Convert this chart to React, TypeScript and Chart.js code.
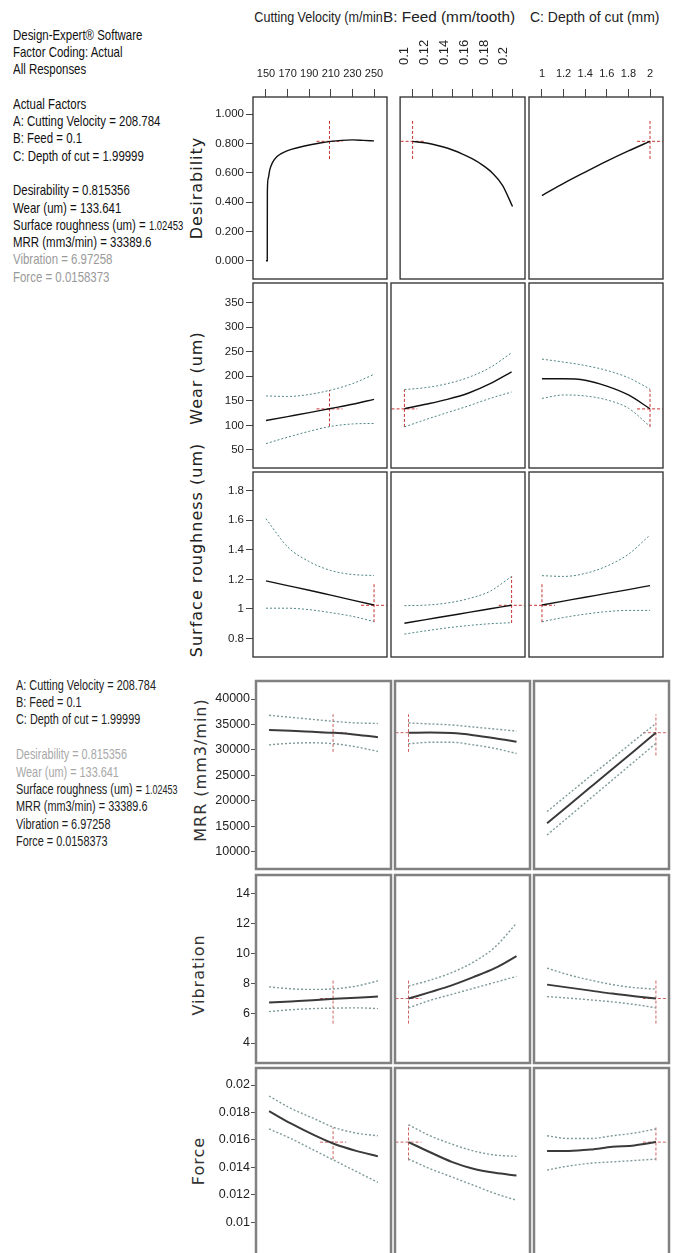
import React, { useEffect, useRef } from "react";
import { Chart, registerables } from "chart.js";
Chart.register(...registerables);

// ---------- factor axes ----------
const A_TICKS = [150, 170, 190, 210, 230, 250];
const A_TICK_LABELS = ["150", "170", "190", "210", "230", "250"];
const B_TICKS = [0.1, 0.12, 0.14, 0.16, 0.18, 0.2];
const B_TICK_LABELS = ["0.1", "0.12", "0.14", "0.16", "0.18", "0.2"];
const C_TICKS = [1, 1.2, 1.4, 1.6, 1.8, 2];
const C_TICK_LABELS = ["1", "1.2", "1.4", "1.6", "1.8", "2"];

const A_PTS = [150, 170, 190, 210, 230, 250];
const B_PTS = [0.1, 0.12, 0.14, 0.16, 0.18, 0.2];
const C_PTS = [1, 1.2, 1.4, 1.6, 1.8, 2];

// ---------- response axes ----------
const DES_TICKS = [0, 0.2, 0.4, 0.6, 0.8, 1];
const DES_TICK_LABELS = ["0.000", "0.200", "0.400", "0.600", "0.800", "1.000"];
const WEAR_TICKS = [50, 100, 150, 200, 250, 300, 350];
const WEAR_TICK_LABELS = ["50", "100", "150", "200", "250", "300", "350"];
const SR_TICKS = [0.8, 1, 1.2, 1.4, 1.6, 1.8];
const SR_TICK_LABELS = ["0.8", "1", "1.2", "1.4", "1.6", "1.8"];
const MRR_TICKS = [10000, 15000, 20000, 25000, 30000, 35000, 40000];
const MRR_TICK_LABELS = ["10000", "15000", "20000", "25000", "30000", "35000", "40000"];
const VIB_TICKS = [4, 6, 8, 10, 12, 14];
const VIB_TICK_LABELS = ["4", "6", "8", "10", "12", "14"];
const FORCE_TICKS = [0.01, 0.012, 0.014, 0.016, 0.018, 0.02];
const FORCE_TICK_LABELS = ["0.01", "0.012", "0.014", "0.016", "0.018", "0.02"];

// ---------- current settings ----------
const FACTORS = [208.784, 0.1, 1.99999];
const FACTORS_SR = [250, 0.2, 1];
const DES_VAL = 0.815356;
const WEAR_VAL = 133.641;
const SR_VAL = 1.02453;
const MRR_VAL = 33389.6;
const VIB_VAL = 6.97258;
const FORCE_VAL = 0.0158373;

// ---------- Desirability ----------
const desA_x = [150, 151.2, 151.3, 152, 153.5, 156, 160, 165, 170, 180, 190, 200, 210, 220, 230, 240, 250];
const desA_y = [0, 0, 0.47, 0.56, 0.62, 0.67, 0.71, 0.735, 0.752, 0.773, 0.79, 0.804, 0.815, 0.822, 0.825, 0.822, 0.818];
const desB_x = [0.1, 0.11, 0.12, 0.13, 0.14, 0.15, 0.16, 0.17, 0.18, 0.19, 0.2];
const desB_y = [0.815, 0.807, 0.795, 0.778, 0.756, 0.728, 0.695, 0.653, 0.598, 0.515, 0.37];
const desC_y = [0.445, 0.528, 0.605, 0.68, 0.75, 0.815];
const DES_CROSS_V = [[0.695, 0.96], [0.695, 0.96], [0.695, 0.96]];

// ---------- Wear ----------
const wearA_mid = [110, 118, 126, 134.5, 143, 153];
const wearA_hi = [160, 159, 163, 172, 185, 204];
const wearA_lo = [63, 76, 88, 98, 103, 104];
const wearB_mid = [134, 143, 153, 166, 185, 209];
const wearB_hi = [173, 177, 185, 198, 218, 248];
const wearB_lo = [97, 112, 126, 140, 155, 168];
const wearC_mid = [195, 195, 192, 180, 162, 134];
const wearC_hi = [235, 229, 222, 212, 197, 174];
const wearC_lo = [155, 162, 160, 152, 135, 98];
const WEAR_CROSS_V = [[98, 172], [97, 173], [97, 173]];

// ---------- Surface roughness ----------
const srA_mid = [1.19, 1.158, 1.126, 1.093, 1.06, 1.027];
const srA_hi = [1.61, 1.42, 1.32, 1.26, 1.233, 1.226];
const srA_lo = [1.005, 1.005, 0.995, 0.975, 0.95, 0.915];
const srB_mid = [0.903, 0.928, 0.952, 0.977, 1.001, 1.025];
const srB_hi = [1.022, 1.026, 1.04, 1.07, 1.12, 1.22];
const srB_lo = [0.83, 0.852, 0.872, 0.888, 0.9, 0.907];
const srC_mid = [1.027, 1.053, 1.079, 1.105, 1.131, 1.158];
const srC_hi = [1.225, 1.22, 1.24, 1.29, 1.37, 1.5];
const srC_lo = [0.914, 0.942, 0.965, 0.982, 0.99, 0.99];
const SR_CROSS_V = [[0.91, 1.18], [0.905, 1.22], [0.91, 1.18]];

// ---------- MRR ----------
const mrrA_mid = [33900, 33750, 33550, 33350, 33000, 32500];
const mrrA_hi = [36800, 36400, 36000, 35600, 35300, 35200];
const mrrA_lo = [31000, 31300, 31400, 31200, 30600, 29700];
const mrrB_mid = [33390, 33400, 33300, 32900, 32300, 31600];
const mrrB_hi = [35300, 35100, 34900, 34500, 34100, 33700];
const mrrB_lo = [31200, 31500, 31500, 31000, 30300, 29300];
const mrrC_mid = [15600, 19150, 22700, 26250, 29800, 33390];
const mrrC_hi = [17900, 21400, 24900, 28300, 31800, 35200];
const mrrC_lo = [13300, 16900, 20500, 24100, 27700, 31300];
const MRR_CROSS_V = [[29600, 37000], [29600, 37000], [28900, 37000]];

// ---------- Vibration ----------
const vibA_mid = [6.7, 6.78, 6.86, 6.95, 7.03, 7.1];
const vibA_hi = [7.75, 7.62, 7.58, 7.62, 7.8, 8.15];
const vibA_lo = [6.1, 6.22, 6.3, 6.33, 6.35, 6.3];
const vibB_mid = [6.97, 7.4, 7.85, 8.4, 9.0, 9.8];
const vibB_hi = [7.8, 8.2, 8.7, 9.4, 10.4, 12.0];
const vibB_lo = [6.35, 6.85, 7.25, 7.65, 8.05, 8.45];
const vibC_mid = [7.9, 7.7, 7.5, 7.3, 7.13, 6.97];
const vibC_hi = [9.0, 8.55, 8.2, 7.9, 7.7, 7.6];
const vibC_lo = [7.1, 7.0, 6.88, 6.75, 6.58, 6.35];
const VIB_CROSS_V = [[5.3, 8.25], [5.3, 8.25], [5.3, 8.25]];

// ---------- Force ----------
const forceA_mid = [0.0181, 0.0172, 0.0164, 0.0157, 0.0152, 0.0148];
const forceA_hi = [0.0192, 0.0183, 0.0176, 0.0169, 0.0165, 0.0163];
const forceA_lo = [0.0168, 0.0161, 0.0153, 0.0145, 0.0137, 0.0129];
const forceB_mid = [0.01584, 0.0151, 0.0144, 0.0139, 0.0136, 0.0134];
const forceB_hi = [0.0171, 0.0163, 0.0157, 0.0152, 0.0149, 0.0148];
const forceB_lo = [0.0146, 0.0139, 0.0133, 0.0127, 0.0121, 0.0116];
const forceC_mid = [0.0152, 0.0152, 0.0153, 0.0155, 0.0156, 0.01584];
const forceC_hi = [0.0163, 0.0161, 0.0161, 0.0163, 0.0165, 0.0168];
const forceC_lo = [0.0138, 0.0141, 0.0143, 0.0144, 0.0145, 0.0146];
const FORCE_CROSS_V = [[0.0146, 0.0169], [0.0145, 0.0171], [0.0145, 0.017]];

// ---------- text ----------
const HEADER_A = "A: Cutting Velocity (m/min)";
const HEADER_B = "B: Feed (mm/tooth)";
const HEADER_C = "C: Depth of cut (mm)";
const Y_TITLES = ["Desirability", "Wear (um)", "Surface roughness (um)", "MRR (mm3/min)", "Vibration", "Force"];

// ---------- layout (styles) ----------
const TOP_COLS = [[253, 387], [391, 525], [529, 663]];
const TOP_ROWS = [[97, 279], [283, 468], [472, 657]];
const BOT_COLS = [[256, 391], [395, 530], [534, 669]];
const BOT_ROWS = [[681, 869], [875, 1063], [1068, 1258]];
const X_RANGES = [[138, 262], [0.0875, 0.2125], [0.88, 2.12]];
const HALF = [12, 0.012, 0.12];
const PAD = 20;
const LEFTX = 70;
const TOPX = 82;
const SANS = "'Liberation Sans', Arial, sans-serif";

const framePlugin = {
  id: "frame",
  afterDatasetsDraw(chart: any, _a: any, opts: any) {
    const { ctx, chartArea } = chart;
    ctx.save();
    ctx.strokeStyle = opts.color;
    ctx.lineWidth = opts.width;
    ctx.strokeRect(chartArea.left, chartArea.top, chartArea.right - chartArea.left, chartArea.bottom - chartArea.top);
    ctx.restore();
  },
};

type Curve = { xs: number[]; ys: number[]; kind: "mid" | "ci" };
type PanelProps = {
  box: number[];
  showX: boolean;
  showY: boolean;
  xRange: number[];
  yRange: number[];
  xTicks: number[];
  xLabels: string[];
  xRot: boolean;
  yTicks: number[];
  yLabels: string[];
  curves: Curve[];
  cross: { x: number; y: number; v: number[]; half: number };
  lower: boolean;
};

function Panel(p: PanelProps) {
  const ref = useRef<HTMLCanvasElement | null>(null);
  const [l, t, r, b] = p.box;
  const extL = p.showY ? LEFTX : PAD;
  const extT = p.showX ? TOPX : PAD;
  const w = r - l + extL + PAD;
  const h = b - t + extT + PAD;
  useEffect(() => {
    const red = p.lower ? "rgba(200,70,70,0.85)" : "#c83232";
    const midColor = p.lower ? "#3a3a3a" : "#111";
    const ciColor = p.lower ? "#7f9a9a" : "#4f8585";
    const datasets: any[] = p.curves.map((c) => ({
      data: c.xs.map((x, i) => ({ x, y: c.ys[i] })),
      borderColor: c.kind === "mid" ? midColor : ciColor,
      borderWidth: c.kind === "mid" ? (p.lower ? 2 : 1.4) : p.lower ? 1.4 : 1,
      borderDash: c.kind === "mid" ? [] : [2, 2],
      pointRadius: 0,
      cubicInterpolationMode: "monotone",
      fill: false,
    }));
    datasets.push({
      data: [{ x: p.cross.x, y: p.cross.v[0] }, { x: p.cross.x, y: p.cross.v[1] }],
      borderColor: red, borderWidth: 1, borderDash: [3, 2], pointRadius: 0, fill: false,
    });
    datasets.push({
      data: [{ x: p.cross.x - p.cross.half, y: p.cross.y }, { x: p.cross.x + p.cross.half, y: p.cross.y }],
      borderColor: red, borderWidth: 1, borderDash: [3, 2], pointRadius: 0, fill: false,
    });
    const chart = new Chart(ref.current as HTMLCanvasElement, {
      type: "line",
      data: { datasets },
      plugins: [framePlugin],
      options: {
        animation: false,
        responsive: false,
        devicePixelRatio: 1,
        events: [],
        layout: { padding: { left: p.showY ? 0 : PAD, right: PAD, top: p.showX ? 0 : PAD, bottom: PAD } },
        plugins: {
          legend: { display: false },
          tooltip: { enabled: false },
          frame: { color: p.lower ? "#808080" : "#3a3a3a", width: p.lower ? 2.5 : 1.4 },
        } as any,
        scales: {
          x: {
            type: "linear",
            position: "top",
            display: p.showX,
            min: p.xRange[0],
            max: p.xRange[1],
            afterBuildTicks: (s: any) => { s.ticks = p.xTicks.map((v) => ({ value: v })); },
            afterFit: (s: any) => { if (p.showX) s.height = TOPX; },
            grid: { drawOnChartArea: false, drawTicks: true, tickLength: 8, color: "#444" },
            border: { display: false },
            ticks: {
              autoSkip: false,
              maxRotation: p.xRot ? 90 : 0,
              minRotation: p.xRot ? 90 : 0,
              padding: p.xRot ? 24 : 8,
              labelOffset: p.xRot ? 7 : 0,
              color: "#222",
              font: { family: SANS, size: p.xRot ? 13 : 11 },
              callback: (_v: any, i: number) => p.xLabels[i],
            },
          },
          y: {
            type: "linear",
            position: "left",
            display: p.showY,
            min: p.yRange[0],
            max: p.yRange[1],
            afterBuildTicks: (s: any) => { s.ticks = p.yTicks.map((v) => ({ value: v })); },
            afterFit: (s: any) => { if (p.showY) s.width = LEFTX; },
            grid: { drawOnChartArea: false, drawTicks: true, tickLength: p.lower ? 5 : 7, color: p.lower ? "#555" : "#444" },
            border: { display: false },
            ticks: {
              autoSkip: false,
              padding: p.lower ? 1 : 2,
              color: "#222",
              font: { family: SANS, size: p.lower ? 12.5 : 11.5 },
              callback: (_v: any, i: number) => p.yLabels[i],
            },
          },
        },
      } as any,
    });
    return () => chart.destroy();
  }, []);
  return (
    <canvas
      ref={ref}
      width={w}
      height={h}
      style={{ position: "absolute", left: l - extL, top: t - extT, width: w, height: h }}
    />
  );
}

type RowSpec = {
  yRange: number[];
  yTicks: number[];
  yLabels: string[];
  curves: Curve[][];
  crossY: number;
  crossX: number[];
  crossV: number[][];
};

const tri = (m: number[], hi: number[], lo: number[], xs: number[]): Curve[] => [
  { xs, ys: hi, kind: "ci" },
  { xs, ys: lo, kind: "ci" },
  { xs, ys: m, kind: "mid" },
];

const TOP_SPECS: RowSpec[] = [
  {
    yRange: [-0.125, 1.118], yTicks: DES_TICKS, yLabels: DES_TICK_LABELS,
    curves: [
      [{ xs: desA_x, ys: desA_y, kind: "mid" }],
      [{ xs: desB_x, ys: desB_y, kind: "mid" }],
      [{ xs: C_PTS, ys: desC_y, kind: "mid" }],
    ],
    crossY: DES_VAL, crossX: FACTORS, crossV: DES_CROSS_V,
  },
  {
    yRange: [13.3, 390], yTicks: WEAR_TICKS, yLabels: WEAR_TICK_LABELS,
    curves: [tri(wearA_mid, wearA_hi, wearA_lo, A_PTS), tri(wearB_mid, wearB_hi, wearB_lo, B_PTS), tri(wearC_mid, wearC_hi, wearC_lo, C_PTS)],
    crossY: WEAR_VAL, crossX: FACTORS, crossV: WEAR_CROSS_V,
  },
  {
    yRange: [0.675, 1.926], yTicks: SR_TICKS, yLabels: SR_TICK_LABELS,
    curves: [tri(srA_mid, srA_hi, srA_lo, A_PTS), tri(srB_mid, srB_hi, srB_lo, B_PTS), tri(srC_mid, srC_hi, srC_lo, C_PTS)],
    crossY: SR_VAL, crossX: FACTORS_SR, crossV: SR_CROSS_V,
  },
];

const BOT_SPECS: RowSpec[] = [
  {
    yRange: [6614, 43535], yTicks: MRR_TICKS, yLabels: MRR_TICK_LABELS,
    curves: [tri(mrrA_mid, mrrA_hi, mrrA_lo, A_PTS), tri(mrrB_mid, mrrB_hi, mrrB_lo, B_PTS), tri(mrrC_mid, mrrC_hi, mrrC_lo, C_PTS)],
    crossY: MRR_VAL, crossX: FACTORS, crossV: MRR_CROSS_V,
  },
  {
    yRange: [2.667, 15.22], yTicks: VIB_TICKS, yLabels: VIB_TICK_LABELS,
    curves: [tri(vibA_mid, vibA_hi, vibA_lo, A_PTS), tri(vibB_mid, vibB_hi, vibB_lo, B_PTS), tri(vibC_mid, vibC_hi, vibC_lo, C_PTS)],
    crossY: VIB_VAL, crossX: FACTORS, crossV: VIB_CROSS_V,
  },
  {
    yRange: [0.007392, 0.021241], yTicks: FORCE_TICKS, yLabels: FORCE_TICK_LABELS,
    curves: [tri(forceA_mid, forceA_hi, forceA_lo, A_PTS), tri(forceB_mid, forceB_hi, forceB_lo, B_PTS), tri(forceC_mid, forceC_hi, forceC_lo, C_PTS)],
    crossY: FORCE_VAL, crossX: FACTORS, crossV: FORCE_CROSS_V,
  },
];

const X_TICK_SETS = [A_TICKS, B_TICKS, C_TICKS];
const X_LABEL_SETS = [A_TICK_LABELS, B_TICK_LABELS, C_TICK_LABELS];

function Line(props: { x: number; y: number; size: number; color: string; sx: number; children: any; lh?: number }) {
  const lh = props.lh || 17;
  return (
    <div
      style={{
        position: "absolute", left: props.x, top: props.y - lh / 2, height: lh, lineHeight: lh + "px",
        fontSize: props.size, color: props.color, fontFamily: SANS, whiteSpace: "nowrap",
        transform: `scaleX(${props.sx})`, transformOrigin: "0 50%",
      }}
    >
      {props.children}
    </div>
  );
}

function VTitle(props: { x: number; y: number; color: string; text: string }) {
  return (
    <div
      style={{
        position: "absolute", left: props.x, top: props.y, whiteSpace: "nowrap",
        fontFamily: "'DejaVu Sans', Verdana, sans-serif", fontSize: 16, letterSpacing: 1, color: props.color,
        transform: "translate(-50%, -50%) rotate(-90deg)", lineHeight: "18px",
      }}
    >
      {props.text}
    </div>
  );
}

export default function App() {
  const panels: any[] = [];
  [TOP_SPECS, BOT_SPECS].forEach((specs, sec) => {
    const cols = sec === 0 ? TOP_COLS : BOT_COLS;
    const rows = sec === 0 ? TOP_ROWS : BOT_ROWS;
    specs.forEach((spec, ri) => {
      for (let ci = 0; ci < 3; ci++) {
        panels.push(
          <Panel
            key={`${sec}-${ri}-${ci}`}
            box={[cols[ci][0], rows[ri][0], cols[ci][1], rows[ri][1]]}
            showX={sec === 0 && ri === 0}
            showY={ci === 0}
            xRange={X_RANGES[ci]}
            yRange={spec.yRange}
            xTicks={X_TICK_SETS[ci]}
            xLabels={X_LABEL_SETS[ci]}
            xRot={ci === 1}
            yTicks={spec.yTicks}
            yLabels={spec.yLabels}
            curves={spec.curves[ci]}
            cross={{ x: spec.crossX[ci], y: spec.crossY, v: spec.crossV[ci], half: HALF[ci] }}
            lower={sec === 1}
          />
        );
      }
    });
  });

  const gray = "#9a9a9a";
  const topLines: [string, string, any][] = [
    ["Design-Expert® Software", "#111", null],
    ["Factor Coding: Actual", "#111", null],
    ["All Responses", "#111", null],
    ["", "#111", null],
    ["Actual Factors", "#111", null],
    [`A: Cutting Velocity = ${FACTORS[0]}`, "#111", null],
    [`B: Feed = ${FACTORS[1]}`, "#111", null],
    [`C: Depth of cut = ${FACTORS[2]}`, "#111", null],
    ["", "#111", null],
    [`Desirability = ${DES_VAL}`, "#111", null],
    [`Wear (um) = ${WEAR_VAL}`, "#111", null],
    ["Surface roughness (um) = ", "#111", SR_VAL],
    [`MRR (mm3/min) = ${MRR_VAL}`, "#111", null],
    [`Vibration = ${VIB_VAL}`, gray, null],
    [`Force = ${FORCE_VAL}`, gray, null],
  ];
  const botLines: [string, string, any][] = [
    [`A: Cutting Velocity = ${FACTORS[0]}`, "#222", null],
    [`B: Feed = ${FACTORS[1]}`, "#222", null],
    [`C: Depth of cut = ${FACTORS[2]}`, "#222", null],
    ["", "#222", null],
    [`Desirability = ${DES_VAL}`, "#a8a8a8", null],
    [`Wear (um) = ${WEAR_VAL}`, "#a8a8a8", null],
    ["Surface roughness (um) = ", "#222", SR_VAL],
    [`MRR (mm3/min) = ${MRR_VAL}`, "#222", null],
    [`Vibration = ${VIB_VAL}`, "#222", null],
    [`Force = ${FORCE_VAL}`, "#222", null],
  ];

  return (
    <div style={{ position: "absolute", left: 0, top: 0, width: 677, height: 1253, overflow: "hidden", background: "#fff" }}>
      {/* header */}
      <div style={{ position: "absolute", left: 252, top: 7, width: 131, height: 20, overflow: "hidden" }}>
        <div style={{ position: "absolute", left: -13, top: 0, whiteSpace: "nowrap", fontFamily: SANS, fontSize: 15.5, lineHeight: "20px", color: "#222", transform: "scaleX(0.81)", transformOrigin: "0 50%" }}>
          {HEADER_A}
        </div>
      </div>
      <Line x={383} y={17} size={15.5} color="#222" sx={0.99} lh={20}>{HEADER_B}</Line>
      <Line x={530} y={17} size={15.5} color="#222" sx={0.9} lh={20}>{HEADER_C}</Line>

      {topLines.map((ln, i) =>
        ln[0] ? (
          <Line key={"t" + i} x={13} y={35 + i * 17.3} size={14.5} color={ln[1]} sx={0.79}>
            {ln[0]}
            {ln[2] !== null ? <span style={{ fontSize: 12 }}>{ln[2]}</span> : null}
          </Line>
        ) : null
      )}
      {botLines.map((ln, i) =>
        ln[0] ? (
          <Line key={"b" + i} x={16} y={685 + i * 17.4} size={14.5} color={ln[1]} sx={0.75}>
            {ln[0]}
            {ln[2] !== null ? <span style={{ fontSize: 12 }}>{ln[2]}</span> : null}
          </Line>
        ) : null
      )}

      <VTitle x={197} y={188} color="#222" text={Y_TITLES[0]} />
      <VTitle x={197} y={378} color="#222" text={Y_TITLES[1]} />
      <VTitle x={197} y={550} color="#222" text={Y_TITLES[2]} />
      <VTitle x={201} y={770} color="#333" text={Y_TITLES[3]} />
      <VTitle x={199} y={975} color="#333" text={Y_TITLES[4]} />
      <VTitle x={199} y={1161} color="#333" text={Y_TITLES[5]} />

      {panels}
    </div>
  );
}
